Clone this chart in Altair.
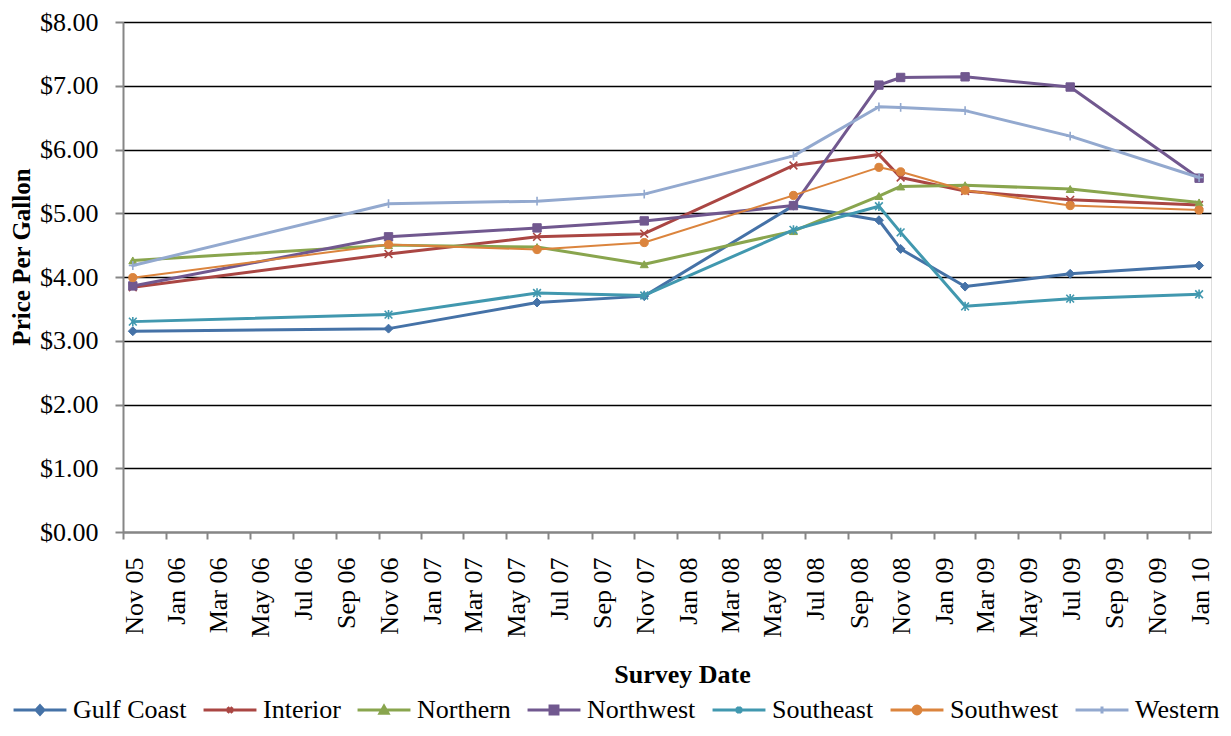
import altair as alt
import pandas as pd

# ---- data ----
dates = ["2005-11-15", "2006-11-15", "2007-06-15", "2007-11-15", "2008-06-15",
         "2008-10-15", "2008-11-15", "2009-02-15", "2009-07-15", "2010-01-15"]
regions = ["Gulf Coast", "Interior", "Northern", "Northwest", "Southeast", "Southwest", "Western"]
gulf_coast = [3.15, 3.19, 3.60, 3.70, 5.12, 4.89, 4.44, 3.85, 4.05, 4.18]
interior = [3.84, 4.36, 4.63, 4.68, 5.75, 5.92, 5.56, 5.35, 5.21, 5.13]
northern = [4.26, 4.50, 4.47, 4.20, 4.72, 5.27, 5.42, 5.44, 5.38, 5.17]
northwest = [3.86, 4.63, 4.77, 4.88, 5.12, 7.01, 7.13, 7.14, 6.98, 5.55]
southeast = [3.30, 3.41, 3.75, 3.71, 4.74, 5.11, 4.70, 3.54, 3.66, 3.73]
southwest = [3.99, 4.51, 4.43, 4.54, 5.28, 5.72, 5.65, 5.36, 5.12, 5.05]
western = [4.18, 5.15, 5.19, 5.30, 5.90, 6.67, 6.66, 6.61, 6.21, 5.56]
series = [gulf_coast, interior, northern, northwest, southeast, southwest, western]

# ---- styles ----
colors = ["#4572A7", "#AA4643", "#89A54E", "#71588F", "#4198AF", "#DB843D", "#93A9CF"]
line_widths = [3, 3, 3, 3, 3, 2, 3]
X_PATH = "M-1,-1L1,1M-1,1L1,-1"
STAR_PATH = "M-1,-1L1,1M-1,1L1,-1M0,-1.2L0,1.2"
PLUS_PATH = "M0,-1.1L0,1.1M-1,0L1,0"
marker_shapes = ["diamond", X_PATH, "triangle-up", "square", STAR_PATH, "circle", PLUS_PATH]
marker_filled = [True, False, True, True, False, True, False]
marker_sizes = [80, 60, 64, 70, 60, 66, 64]
LINE = "M-1,0L1,0"
legend_paths = [
    LINE + "M0,-0.16L0.15,0L0,0.16L-0.15,0Z",
    LINE + "M-0.09,-0.11L0.09,0.11M-0.09,0.11L0.09,-0.11",
    LINE + "M0,-0.14L0.15,0.12L-0.15,0.12Z",
    LINE + "M-0.15,-0.15H0.15V0.15H-0.15Z",
    LINE + "M-0.09,-0.11L0.09,0.11M-0.09,0.11L0.09,-0.11M0,-0.13L0,0.13",
    LINE + "M-0.15,0A0.15,0.15 0 1,0 0.15,0A0.15,0.15 0 1,0 -0.15,0Z",
    LINE + "M0,-0.13L0,0.13",
]

FONT = "Liberation Serif"
GRAY = "#868686"

rows = []
for reg, vals in zip(regions, series):
    for d, v in zip(dates, vals):
        rows.append({"date": pd.Timestamp(d), "price": v, "region": reg})
df = pd.DataFrame(rows)

tick_vals = [alt.DateTime(year=2005 + (10 + 2 * i) // 12, month=(10 + 2 * i) % 12 + 1, date=1)
             for i in range(26)]

x_enc = alt.X(
    "date:T",
    scale=alt.Scale(domain=[alt.DateTime(year=2005, month=11, date=1),
                            alt.DateTime(year=2010, month=2, date=1)]),
    axis=alt.Axis(
        values=tick_vals, format="%b %y", labelAngle=270, labelAlign="right",
        labelBaseline="middle", labelOffset=11, labelPadding=18, tickSize=7,
        tickColor=GRAY, tickWidth=2, domainColor=GRAY, domainWidth=2, grid=False,
        labelOverlap=False, labelFlush=False, labelBound=False,
        labelFont=FONT, labelFontSize=26, labelColor="black",
        title="Survey Date", titleFont=FONT, titleFontSize=26, titleFontWeight="bold",
        titleColor="black", titleX=559, titleY=150, titleAlign="center",
        titleBaseline="alphabetic", titleAngle=0,
    ),
)
y_enc = alt.Y(
    "price:Q",
    scale=alt.Scale(domain=[0, 8], nice=False, zero=True),
    axis=alt.Axis(
        values=list(range(9)), format="$.2f", tickSize=8, tickColor=GRAY, tickWidth=2,
        domainColor=GRAY, domainWidth=2, grid=True, gridColor="black", gridWidth=1.6,
        gridOpacity=1, labelFont=FONT, labelFontSize=26, labelColor="black", labelPadding=17,
        title="Price Per Gallon", titleFont=FONT, titleFontSize=25, titleFontWeight="bold",
        titleColor="black", titleAngle=270, titleX=-93.5, titleY=234.5,
        titleBaseline="alphabetic", titleAlign="center",
    ),
)

layers = []
for i, reg in enumerate(regions):
    sub = alt.Chart(df).transform_filter(alt.datum.region == reg)
    layers.append(sub.mark_line(color=colors[i], strokeWidth=line_widths[i],
                                strokeJoin="round", strokeCap="round").encode(x=x_enc, y=y_enc))
    if marker_filled[i]:
        pt = sub.mark_point(shape=marker_shapes[i], filled=True, fill=colors[i], stroke=colors[i],
                            strokeWidth=1, size=marker_sizes[i], opacity=1)
    else:
        pt = sub.mark_point(shape=marker_shapes[i], filled=False, stroke=colors[i],
                            strokeWidth=1.6, size=marker_sizes[i], opacity=1)
    layers.append(pt.encode(x=x_enc, y=y_enc))

leg = alt.Legend(
    title=None, orient="none", legendX=-111, legendY=660, direction="horizontal",
    symbolSize=2800, symbolStrokeWidth=3, symbolOpacity=1,
    labelFont=FONT, labelFontSize=26, labelColor="black", labelOffset=5,
    columnPadding=10, padding=0, labelLimit=0,
)
legend_layer = alt.Chart(df).transform_filter("false").mark_point(filled=True, opacity=1).encode(
    x=x_enc, y=y_enc,
    fill=alt.Fill("region:N", scale=alt.Scale(domain=regions, range=colors), legend=leg),
    stroke=alt.Stroke("region:N", scale=alt.Scale(domain=regions, range=colors), legend=leg),
    shape=alt.Shape("region:N", scale=alt.Scale(domain=regions, range=legend_paths), legend=leg),
)
layers.append(legend_layer)

chart = alt.layer(*layers).properties(
    width=1088, height=510,
    autosize=alt.AutoSizeParams(type="none"),
    padding={"left": 115, "top": 14, "right": 12, "bottom": 192},
).configure_view(stroke="black", strokeWidth=1.5).configure(
    font=FONT, background="white"
).configure_legend(labelFont=FONT, labelFontSize=26, labelColor="black")

chart.save("out.html", embed_options={"renderer": "svg", "actions": False})
